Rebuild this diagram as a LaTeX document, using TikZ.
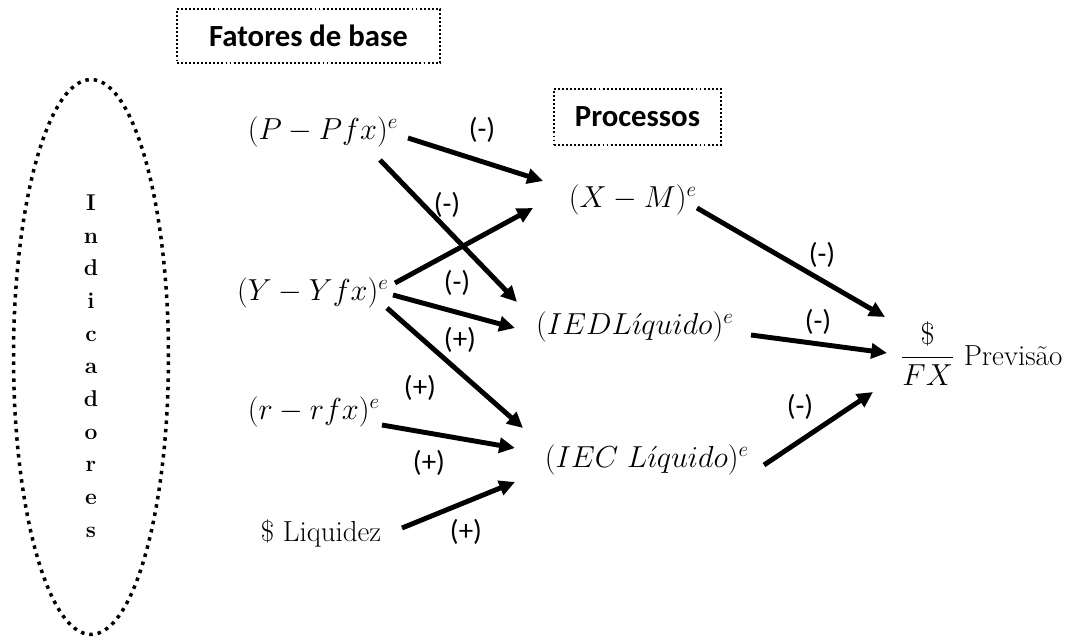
\documentclass[tikz,border=0pt]{standalone}
\usepackage{fontspec}
\usepackage{xcolor}
\usepackage{tikz}
\usetikzlibrary{arrows.meta}
\usetikzlibrary{shapes.geometric}
\newfontfamily\calib{Carlito}

\begin{document}
\begin{tikzpicture}[
    x=0.02cm,
    y=-0.02cm,
    font=\fontsize{16.5}{19}\selectfont,
    var/.style={
        inner sep=2pt
    },
    sinal/.style={
        font=\calib\fontsize{16.5}{19}\selectfont,
        inner sep=1pt
    },
    titulo/.style={
        draw,
        line width=1.1pt,
        dash pattern=on 1.1pt off 1.2pt,
        font=\calib\bfseries\fontsize{17.5}{20}\selectfont
    },
    arr/.style={
        -{Triangle[length=9pt,width=8.5pt]},
        line width=2.8pt
    }
]

\useasboundingbox (0,0) rectangle (1078,639);

% Indicators
\node[
    ellipse,
    draw,
    line width=2pt,
    dash pattern=on 2pt off 2.8pt,
    minimum width=3.1cm,
    minimum height=11.1cm
] (ind) at (91,357) {};

\node[
    font=\bfseries\fontsize{13}{18.6}\selectfont,
    align=center
] (indtxt) at (91,366)
{I\\n\\d\\i\\c\\a\\d\\o\\r\\e\\s};

% Headings
\node[titulo, minimum width=5.26cm, minimum height=1.08cm]
    (fatores) at (308.5,36) {Fatores de base};
\node[titulo, minimum width=3.34cm, minimum height=1.12cm]
    (processos) at (637.5,117) {Processos};

% Base factors
\node[var] (p) at (323,132) {$(P-Pfx)^e$};
\node[var] (y) at (313,293) {$(Y-Yfx)^e$};
\node[var] (r) at (314,412) {$(r-rfx)^e$};
\node[var] (liq) at (321,533) {\$ Liquidez};

% Processes
\node[var] (xm) at (633,200) {$(X-M)^e$};
\node[var] (ied) at (635,327) {$(IEDL\acute{\imath}quido)^e$};
\node[var] (iec) at (647,460) {$(IEC\ L\acute{\imath}quido)^e$};

% Forecast
\node[var, inner sep=0pt, anchor=base west]
    (fx) at (900,365) {$\displaystyle\frac{\$}{FX}$ Previsão};

% Base factors -> processes
\draw[arr] ([shift={(85,6)}]p.center) -- ([shift={(-90,-19)}]xm.center);
\draw[arr] ([shift={(57,28)}]p.center) -- ([shift={(-118,-25)}]ied.center);
\draw[arr] ([shift={(82,-10)}]y.center) -- ([shift={(-100,8)}]xm.center);
\draw[arr] ([shift={(80,2)}]y.center) -- ([shift={(-120,1)}]ied.center);
\draw[arr] ([shift={(74,15)}]y.center) -- ([shift={(-124,-32)}]iec.center);
\draw[arr] ([shift={(68,13)}]r.center) -- ([shift={(-132,-12)}]iec.center);
\draw[arr] ([shift={(81,-5)}]liq.center) -- ([shift={(-132,22)}]iec.center);

% Processes -> forecast
\draw[arr] ([shift={(64,8)}]xm.center) -- ([shift={(-15,-48)}]fx.base west);
\draw[arr] ([shift={(116,8)}]ied.center) -- ([shift={(-13,-12)}]fx.base west);
\draw[arr] ([shift={(117,5)}]iec.center) -- ([shift={(-27,27)}]fx.base west);

% Signs
\node[sinal] (s1) at (482,130) {(-)};
\node[sinal] (s2) at (447,205) {(-)};
\node[sinal] (s3) at (457,283) {(-)};
\node[sinal] (s4) at (460,340) {(+)};
\node[sinal] (s5) at (420,388) {(+)};
\node[sinal] (s6) at (429,463) {(+)};
\node[sinal] (s7) at (466,532) {(+)};
\node[sinal] (s8) at (822,255) {(-)};
\node[sinal] (s9) at (818,322) {(-)};
\node[sinal] (s10) at (800,407) {(-)};

\end{tikzpicture}
\end{document}
